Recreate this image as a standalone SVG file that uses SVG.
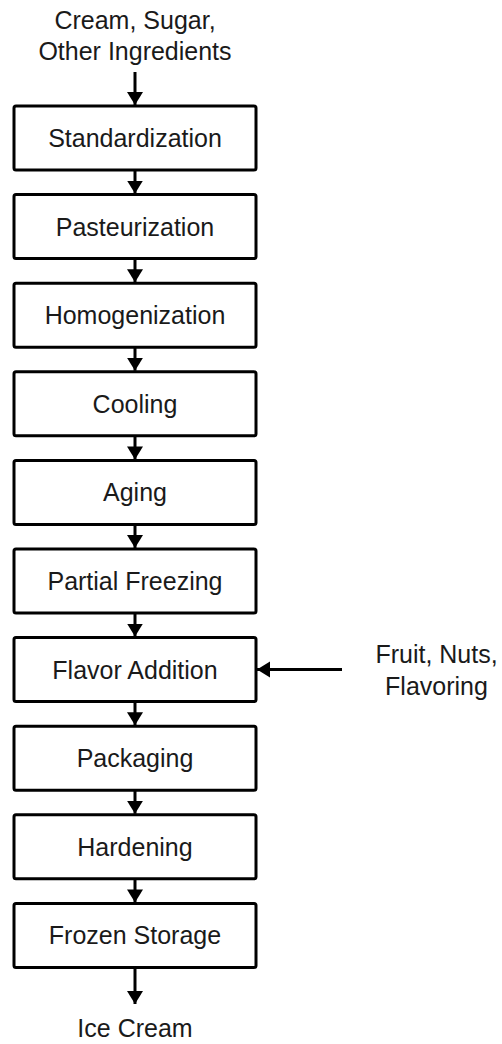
<svg xmlns="http://www.w3.org/2000/svg" width="502" height="1044" viewBox="0 0 502 1044">
<defs>
<style>
.box{fill:#fff;stroke:#000;stroke-width:3}
.t{font-family:"Liberation Sans",Arial,sans-serif;font-size:25px;fill:#1a1a1a;text-anchor:middle}
.c{stroke:#000;stroke-width:3;fill:none;marker-end:url(#ah)}
</style>
<marker id="ah" markerUnits="userSpaceOnUse" markerWidth="14" markerHeight="17" refX="13" refY="8" orient="auto" viewBox="0 0 14 17">
<path d="M0,0 L13,8 L0,16 z" fill="#000"/>
</marker>
</defs>
<rect width="502" height="1044" fill="#fff"/>
<g id="connectors">
<line class="c" x1="135" y1="72" x2="135" y2="105"/>
<line class="c" x1="135" y1="170" x2="135" y2="193.6"/>
<line class="c" x1="135" y1="258.6" x2="135" y2="282.2"/>
<line class="c" x1="135" y1="347.2" x2="135" y2="370.8"/>
<line class="c" x1="135" y1="435.8" x2="135" y2="459.4"/>
<line class="c" x1="135" y1="524.4" x2="135" y2="548"/>
<line class="c" x1="135" y1="613" x2="135" y2="636.6"/>
<line class="c" x1="135" y1="701.6" x2="135" y2="725.2"/>
<line class="c" x1="135" y1="790.2" x2="135" y2="813.8"/>
<line class="c" x1="135" y1="878.8" x2="135" y2="902.4"/>
<line class="c" x1="135" y1="967.4" x2="135" y2="1004"/>
<line class="c" x1="342" y1="669.6" x2="257" y2="669.6"/>
</g>
<g id="input-top"><text class="t" x="135" y="29">Cream, Sugar,</text><text class="t" x="135" y="60">Other Ingredients</text></g>
<g id="standardization"><rect class="box" x="14" y="106" width="242" height="64" rx="2"/><text class="t" x="135" y="147">Standardization</text></g>
<g id="pasteurization"><rect class="box" x="14" y="194.6" width="242" height="64" rx="2"/><text class="t" x="135" y="235.6">Pasteurization</text></g>
<g id="homogenization"><rect class="box" x="14" y="283.2" width="242" height="64" rx="2"/><text class="t" x="135" y="324.2">Homogenization</text></g>
<g id="cooling"><rect class="box" x="14" y="371.8" width="242" height="64" rx="2"/><text class="t" x="135" y="412.8">Cooling</text></g>
<g id="aging"><rect class="box" x="14" y="460.4" width="242" height="64" rx="2"/><text class="t" x="135" y="501.4">Aging</text></g>
<g id="partial-freezing"><rect class="box" x="14" y="549" width="242" height="64" rx="2"/><text class="t" x="135" y="590">Partial Freezing</text></g>
<g id="flavor-addition"><rect class="box" x="14" y="637.6" width="242" height="64" rx="2"/><text class="t" x="135" y="678.6">Flavor Addition</text></g>
<g id="packaging"><rect class="box" x="14" y="726.2" width="242" height="64" rx="2"/><text class="t" x="135" y="767.2">Packaging</text></g>
<g id="hardening"><rect class="box" x="14" y="814.8" width="242" height="64" rx="2"/><text class="t" x="135" y="855.8">Hardening</text></g>
<g id="frozen-storage"><rect class="box" x="14" y="903.4" width="242" height="64" rx="2"/><text class="t" x="135" y="944.4">Frozen Storage</text></g>
<g id="input-right"><text class="t" x="436.5" y="662.5">Fruit, Nuts,</text><text class="t" x="436.5" y="694.5">Flavoring</text></g>
<g id="output"><text class="t" x="135" y="1036.5">Ice Cream</text></g>
</svg>
